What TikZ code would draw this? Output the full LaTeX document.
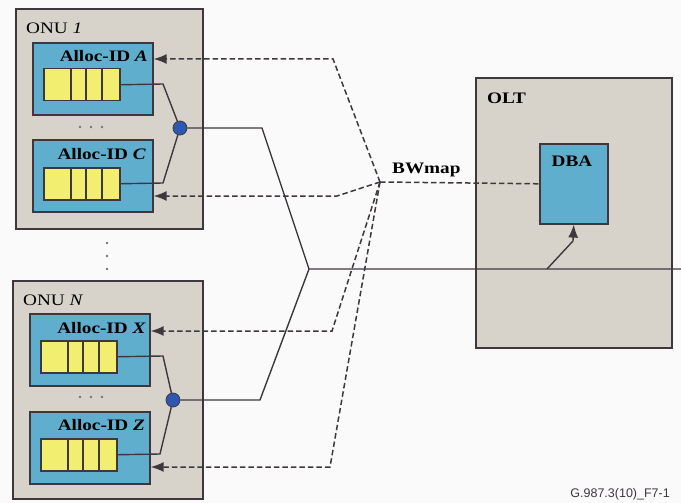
\documentclass[tikz,border=0pt]{standalone}
\usepackage{fontspec}
\setmainfont{Liberation Serif}
\newfontfamily\figsans{Liberation Sans}
\usetikzlibrary{arrows.meta}

\definecolor{paper}{RGB}{250,250,251}
\definecolor{boxgray}{RGB}{215,211,203}
\definecolor{allocblue}{RGB}{96,174,206}
\definecolor{queueyellow}{RGB}{241,238,112}
\definecolor{muxblue}{RGB}{45,88,178}
\definecolor{edge}{RGB}{62,56,62}

\tikzset{
  unit/.style={draw=edge, fill=boxgray, line width=1.6pt, anchor=north west, inner sep=0},
  alloc/.style={draw=edge, fill=allocblue, line width=1.6pt, anchor=north west, inner sep=0,
                minimum width=120pt, minimum height=72pt},
  queue/.style={draw=edge, fill=queueyellow, line width=1.5pt, anchor=north west, inner sep=0,
                minimum width=76pt, minimum height=32pt},
  mux/.style={circle, draw=edge, fill=muxblue, line width=0.8pt, minimum size=14pt, inner sep=0},
  wire/.style={draw=edge, line width=1.4pt},
  grant/.style={draw=edge, line width=1.5pt, dash pattern=on 5.5pt off 3pt},
  tip/.style={-{Latex[length=13pt,width=10pt]}},
  grantarrow/.style={grant, tip},
  txt/.style={inner sep=0, font=\fontsize{16}{18}\selectfont, xscale=1.2},
  btxt/.style={txt, font=\fontsize{16}{18}\selectfont\bfseries},
  dotmark/.style={fill=edge!70, draw=none}
}

\newcommand{\queuecells}[1]{%
  \foreach \d in {28,43,59}
    \draw[edge, line width=1.5pt] ([xshift=\d pt]#1.north west) -- ([xshift=\d pt]#1.south west);}

\begin{document}
\begin{tikzpicture}[x=1pt, y=-1pt]
  \fill[paper] (0,0) rectangle (681,503);
  \useasboundingbox (0,0) rectangle (681,503);

  % ---------- ONU 1 ----------
  \node[unit, minimum width=187pt, minimum height=220pt] (onu1) at (15,8) {};
  \node[txt, anchor=base west] (onu1lbl) at (26,34) {ONU \textit{1}};
  \node[alloc] (aa) at (32,42) {};
  \node[btxt, anchor=base east] (aalbl) at (148,62) {Alloc-ID \textit{A}};
  \node[queue] (qa) at (43,68) {};
  \queuecells{qa}
  \node[alloc] (cc) at (32,139) {};
  \node[btxt, anchor=base east] (cclbl) at (146,160) {Alloc-ID \textit{C}};
  \node[queue] (qc) at (43,167) {};
  \queuecells{qc}
  \foreach \x in {80,91,102} \fill[dotmark] (\x,127) circle (1.3pt);
  \node[mux] (m1) at (180,128) {};

  % ---------- ONU N ----------
  \node[unit, minimum width=190pt, minimum height=218pt] (onun) at (12,280) {};
  \node[txt, anchor=base west] (onunlbl) at (23,305) {ONU \textit{N}};
  \node[alloc] (xx) at (29,313) {};
  \node[btxt, anchor=base east] (xxlbl) at (146,333) {Alloc-ID \textit{X}};
  \node[queue] (qx) at (40,340) {};
  \queuecells{qx}
  \node[alloc] (zz) at (29,411) {};
  \node[btxt, anchor=base east] (zzlbl) at (145,430) {Alloc-ID \textit{Z}};
  \node[queue] (qz) at (40,438) {};
  \queuecells{qz}
  \foreach \x in {80,91,102} \fill[dotmark] (\x,397) circle (1.3pt);
  \node[mux] (mn) at (173,400) {};

  % more ONUs in between
  \foreach \y in {243,256,269} \fill[dotmark] (107,\y) circle (1.4pt);

  % ---------- OLT ----------
  \node[unit, minimum width=196pt, minimum height=270pt] (olt) at (475,77) {};
  \node[btxt, anchor=base west] (oltlbl) at (487,103) {OLT};
  \node[alloc, minimum width=68pt, minimum height=80pt] (dba) at (539,143) {};
  \node[btxt, anchor=base] (dbalbl) at (572,167) {DBA};

  % ---------- upstream traffic ----------
  \coordinate (ka) at (163,84);
  \coordinate (kc) at (163,183);
  \coordinate (kx) at (163,356);
  \coordinate (kz) at (160,454);
  \draw[wire] (qa.east) -- (ka) -- (m1);
  \draw[wire] (qc.east) -- (kc) -- (m1);
  \draw[wire] (qx.east) -- (kx) -- (mn);
  \draw[wire] (qz.east) -- (kz) -- (mn);

  \coordinate (t1) at (262,128);
  \coordinate (split) at (309,269);
  \coordinate (tn) at (260,400);
  \coordinate (feeder) at (681,269);
  \draw[wire] (m1) -- (t1) -- (split) -- (feeder);
  \draw[wire] (split) -- (tn) -- (mn);

  \coordinate (tap) at (547,269);
  \coordinate (bend) at (573,241);
  \draw[wire, tip] (tap) -- (bend) -- (dba.south);

  % ---------- BWmap grants ----------
  \coordinate (bw) at (380,182);
  \node[btxt, anchor=base west] (bwlbl) at (392,173) {BWmap};
  \draw[grant] (bw) -- (dba.west);

  \coordinate (ya) at (0,59);
  \coordinate (yc) at (0,196);
  \coordinate (yx) at (0,331);
  \coordinate (yz) at (0,467);
  \draw[grantarrow] (bw) -- (333,59) -- (aa.east |- ya);
  \draw[grantarrow] (bw) -- (337,196) -- (cc.east |- yc);
  \draw[grantarrow] (bw) -- (332,331) -- (xx.east |- yx);
  \draw[grantarrow] (bw) -- (330,467) -- (zz.east |- yz);

  % figure tag
  \node[inner sep=0, anchor=base east, font=\figsans\fontsize{12.5}{14}\selectfont, text=edge] (tag)
    at (670,497) {G.987.3(10)\_F7-1};
\end{tikzpicture}
\end{document}
